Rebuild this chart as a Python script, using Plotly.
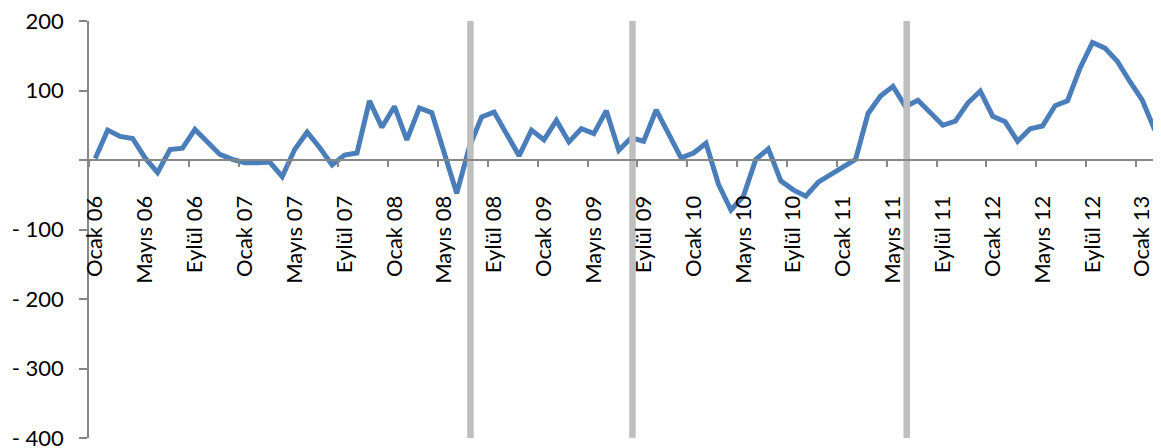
import plotly.graph_objects as go

months = ["Ocak", "Şubat", "Mart", "Nisan", "Mayıs", "Haziran", "Temmuz",
          "Ağustos", "Eylül", "Ekim", "Kasım", "Aralık"]
years = ["06", "07", "08", "09", "10", "11", "12", "13"]
categories = [f"{m} {y}" for y in years for m in months][:86]

values = [2, 43, 34, 31, 3, -18, 15, 17, 44, 27,
          8, 1, -4, -4, -3, -24, 15, 40, 18, -7,
          7, 10, 85, 47, 77, 29, 75, 68, 12, -48,
          18, 62, 69, 39, 6, 43, 29, 57, 26, 45,
          38, 71, 14, 32, 27, 72, 37, 3, 10, 24,
          -35, -72, -52, 1, 16, -30, -43, -52, -32, -21,
          -10, 1, 67, 92, 106, 77, 86, 68, 50, 56,
          82, 99, 63, 55, 27, 45, 49, 78, 85, 132,
          169, 161, 142, 113, 86, 43]

label_step = 4
event_positions = [30.1, 43.1, 65.1]

y_tick_vals = [200, 100, 0, -100, -200, -300, -400]
y_tick_text = ["200", "100", "", "- 100", "- 200", "- 300", "- 400"]
y_range = [-400, 200]

idx = list(range(len(values)))
label_idx = idx[::label_step]
label_text = [categories[i] for i in label_idx]
boundary_ticks = [i - 0.5 for i in label_idx]

ev_x, ev_y = [], []
for p in event_positions:
    ev_x += [p, p, None]
    ev_y += [y_range[0], y_range[1], None]

fig = go.Figure()
fig.add_trace(go.Scatter(x=idx, y=values, mode="lines",
                         line=dict(color="#4A7EBB", width=5),
                         hoverinfo="skip", showlegend=False))
fig.add_trace(go.Scatter(x=ev_x, y=ev_y, mode="lines", xaxis="x2",
                         line=dict(color="#BFBFBF", width=6.5),
                         hoverinfo="skip", showlegend=False))

zero_pos = (0 - y_range[0]) / (y_range[1] - y_range[0])
xr = [-0.5, len(values) - 0.5]

fig.update_layout(
    width=1161, height=448,
    margin=dict(l=81, r=8, t=13, b=18, autoexpand=False),
    paper_bgcolor="white", plot_bgcolor="white",
    font=dict(family="Lato", size=22, color="black"),
    xaxis=dict(range=xr, anchor="free", position=zero_pos, automargin=False,
               showline=True, linecolor="#868686", linewidth=1.5,
               tickmode="array", tickvals=boundary_ticks, ticks="outside",
               ticklen=6, tickwidth=1.5, tickcolor="#868686",
               showticklabels=False, showgrid=False, zeroline=False),
    xaxis2=dict(range=xr, anchor="free", position=zero_pos, overlaying="x",
                side="bottom", tickmode="array", tickvals=label_idx,
                ticktext=label_text, tickangle=-90, ticks="outside",
                ticklen=0, ticklabelstandoff=26, ticklabeloverflow="allow",
                automargin=False,
                showline=False, showgrid=False, zeroline=False),
    yaxis=dict(range=y_range, tickmode="array", tickvals=y_tick_vals,
               ticktext=y_tick_text, showline=True, linecolor="#868686",
               linewidth=1.5, ticks="outside", ticklen=8, tickwidth=1.5,
               tickcolor="#868686", ticklabelstandoff=11,
               ticklabeloverflow="allow", automargin=False,
               showgrid=False, zeroline=False),
)

fig.write_html("out.html")
